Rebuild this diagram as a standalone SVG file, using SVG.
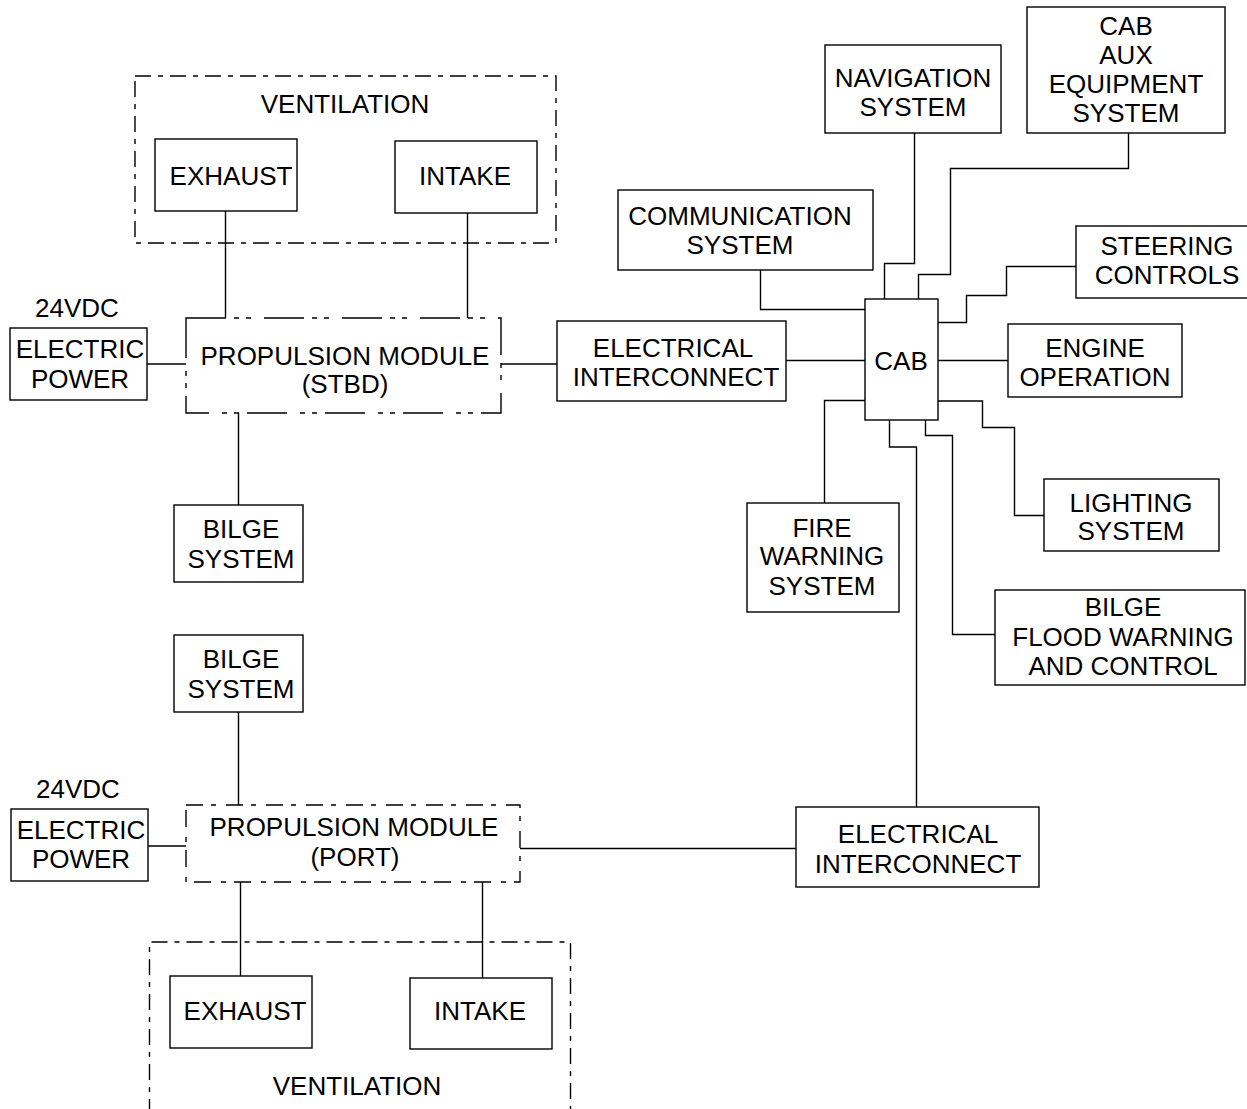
<svg xmlns="http://www.w3.org/2000/svg" width="1247" height="1109" viewBox="0 0 1247 1109">
<style>
.box{fill:none;stroke:#000;stroke-width:1.4}
.mod{fill:none;stroke:#000;stroke-width:1.4;stroke-dasharray:40 8 5 7 5 13}
.mod2{fill:none;stroke:#000;stroke-width:1.4;stroke-dasharray:17 8 5 10}
.vent{fill:none;stroke:#000;stroke-width:1.4;stroke-dasharray:16 7 5 7}
.ln{fill:none;stroke:#000;stroke-width:1.4}
text{font-family:"Liberation Sans",Arial,sans-serif;font-size:26px;fill:#000;text-anchor:middle}
</style>
<rect width="1247" height="1109" fill="#fff"/>
<g id="connectors">
<line class="ln" x1="225.5" y1="211" x2="225.5" y2="318"/>
<line class="ln" x1="467.5" y1="213" x2="467.5" y2="318"/>
<line class="ln" x1="147" y1="364" x2="186" y2="364"/>
<line class="ln" x1="501" y1="364" x2="557" y2="364"/>
<line class="ln" x1="238.5" y1="413" x2="238.5" y2="505"/>
<line class="ln" x1="786" y1="360.5" x2="865" y2="360.5"/>
<line class="ln" x1="938" y1="360.5" x2="1008" y2="360.5"/>
<polyline class="ln" points="914.5,133 914.5,263.5 884.5,263.5 884.5,299"/>
<polyline class="ln" points="1128.5,133 1128.5,168.5 950.5,168.5 950.5,274.5 918.5,274.5 918.5,299"/>
<polyline class="ln" points="760.5,270 760.5,309.5 865,309.5"/>
<polyline class="ln" points="1076,266.5 1006.5,266.5 1006.5,295.5 966.5,295.5 966.5,322.5 938,322.5"/>
<polyline class="ln" points="865,400.5 824.5,400.5 824.5,503"/>
<polyline class="ln" points="938,401 982.5,401 982.5,427.5 1014.5,427.5 1014.5,515.5 1044,515.5"/>
<polyline class="ln" points="925.5,420 925.5,435.5 952.5,435.5 952.5,634.5 995,634.5"/>
<polyline class="ln" points="889.5,420 889.5,447 916.5,447 916.5,807"/>
<line class="ln" x1="238.5" y1="712" x2="238.5" y2="805"/>
<line class="ln" x1="148" y1="846" x2="186" y2="846"/>
<line class="ln" x1="520" y1="848.5" x2="796" y2="848.5"/>
<line class="ln" x1="240.5" y1="882" x2="240.5" y2="976"/>
<line class="ln" x1="482.5" y1="882" x2="482.5" y2="978"/>
</g>
<g id="ventilation-stbd">
<rect class="vent" x="135" y="76" width="421" height="167"/>
<text x="345" y="113">VENTILATION</text>
</g>
<g id="exhaust-stbd">
<rect class="box" x="155" y="139" width="142" height="72"/>
<text x="231" y="185">EXHAUST</text>
</g>
<g id="intake-stbd">
<rect class="box" x="395" y="141" width="142" height="72"/>
<text x="465" y="185">INTAKE</text>
</g>
<g id="power-stbd">
<text x="77" y="317">24VDC</text>
<rect class="box" x="10" y="328" width="137" height="72"/>
<text x="80" y="358">ELECTRIC</text>
<text x="80" y="388">POWER</text>
</g>
<g id="propulsion-stbd">
<rect class="mod" x="186" y="318" width="315" height="95"/>
<text x="345" y="365">PROPULSION MODULE</text>
<text x="345" y="393">(STBD)</text>
</g>
<g id="bilge-stbd">
<rect class="box" x="174" y="505" width="129" height="77"/>
<text x="241" y="538">BILGE</text>
<text x="241" y="568">SYSTEM</text>
</g>
<g id="interconnect-stbd">
<rect class="box" x="557" y="321" width="229" height="80"/>
<text x="673" y="357">ELECTRICAL</text>
<text x="676" y="386">INTERCONNECT</text>
</g>
<g id="cab">
<rect class="box" x="865" y="299" width="73" height="121"/>
<text x="901" y="370">CAB</text>
</g>
<g id="navigation">
<rect class="box" x="825" y="45" width="176" height="88"/>
<text x="913" y="87">NAVIGATION</text>
<text x="913" y="116">SYSTEM</text>
</g>
<g id="cab-aux">
<rect class="box" x="1027" y="7" width="198" height="126"/>
<text x="1126" y="35">CAB</text>
<text x="1126" y="64">AUX</text>
<text x="1126" y="93">EQUIPMENT</text>
<text x="1126" y="122">SYSTEM</text>
</g>
<g id="communication">
<rect class="box" x="618" y="190" width="255" height="80"/>
<text x="740" y="225">COMMUNICATION</text>
<text x="740" y="254">SYSTEM</text>
</g>
<g id="steering">
<rect class="box" x="1076" y="226" width="190" height="72"/>
<text x="1167" y="255">STEERING</text>
<text x="1167" y="284">CONTROLS</text>
</g>
<g id="engine">
<rect class="box" x="1008" y="324" width="174" height="73"/>
<text x="1095" y="357">ENGINE</text>
<text x="1095" y="386">OPERATION</text>
</g>
<g id="fire-warning">
<rect class="box" x="747" y="503" width="152" height="109"/>
<text x="822" y="537">FIRE</text>
<text x="822" y="565">WARNING</text>
<text x="822" y="595">SYSTEM</text>
</g>
<g id="lighting">
<rect class="box" x="1044" y="479" width="175" height="72"/>
<text x="1131" y="512">LIGHTING</text>
<text x="1131" y="540">SYSTEM</text>
</g>
<g id="bilge-flood">
<rect class="box" x="995" y="590" width="250" height="95"/>
<text x="1123" y="616">BILGE</text>
<text x="1123" y="646">FLOOD WARNING</text>
<text x="1123" y="675">AND CONTROL</text>
</g>
<g id="bilge-port">
<rect class="box" x="174" y="635" width="129" height="77"/>
<text x="241" y="668">BILGE</text>
<text x="241" y="698">SYSTEM</text>
</g>
<g id="power-port">
<text x="78" y="798">24VDC</text>
<rect class="box" x="11" y="809" width="137" height="72"/>
<text x="81" y="839">ELECTRIC</text>
<text x="81" y="868">POWER</text>
</g>
<g id="propulsion-port">
<rect class="mod2" x="186" y="805" width="334" height="77"/>
<text x="354" y="836">PROPULSION MODULE</text>
<text x="355" y="866">(PORT)</text>
</g>
<g id="interconnect-port">
<rect class="box" x="796" y="807" width="243" height="80"/>
<text x="918" y="843">ELECTRICAL</text>
<text x="918" y="873">INTERCONNECT</text>
</g>
<g id="ventilation-port">
<path class="vent" d="M149.5,1115 V942 H570.5 V1115"/>
<text x="357" y="1095">VENTILATION</text>
</g>
<g id="exhaust-port">
<rect class="box" x="170" y="976" width="142" height="72"/>
<text x="245" y="1020">EXHAUST</text>
</g>
<g id="intake-port">
<rect class="box" x="410" y="978" width="142" height="71"/>
<text x="480" y="1020">INTAKE</text>
</g>
</svg>
